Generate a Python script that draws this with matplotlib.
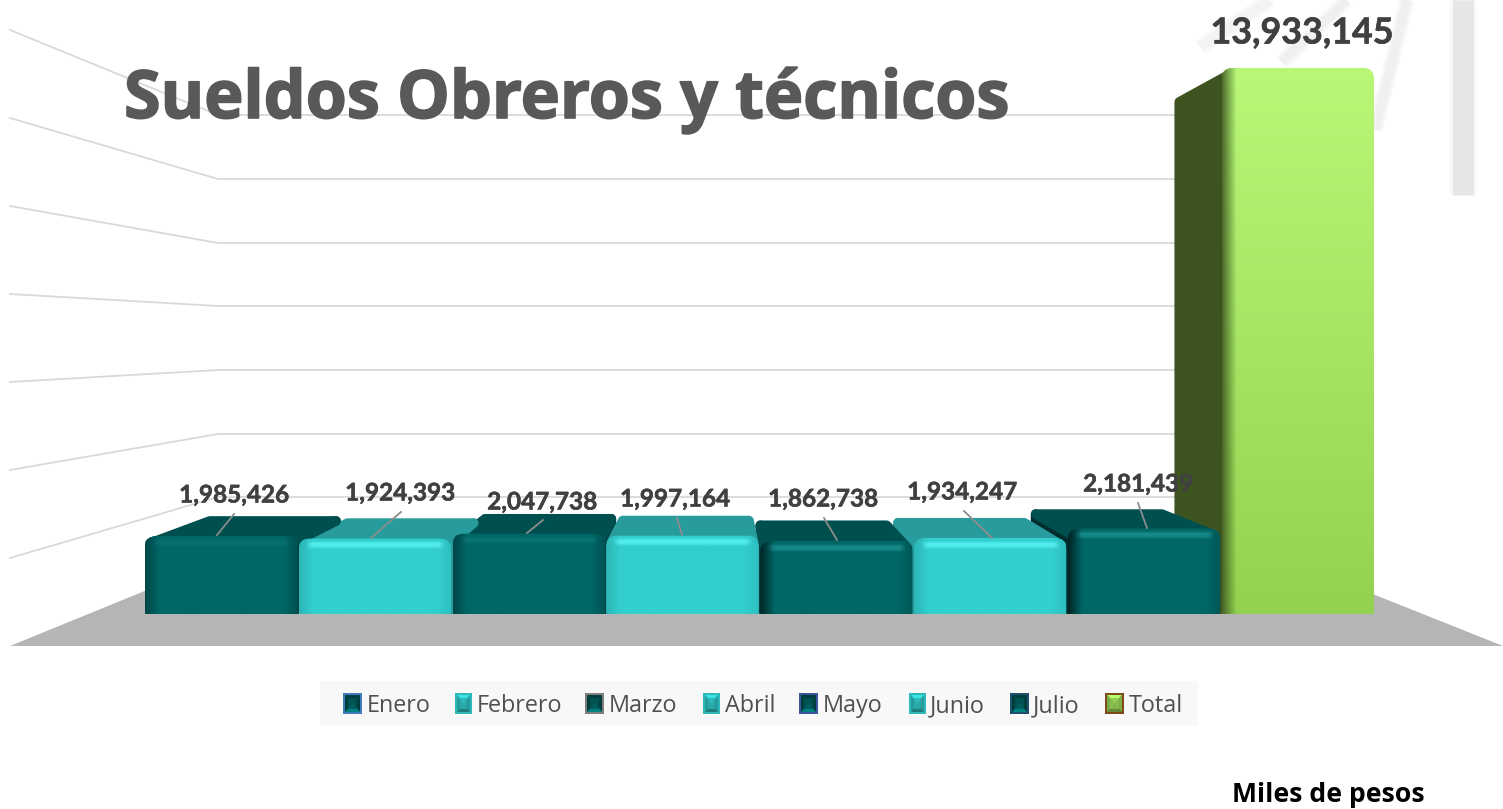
# -*- coding: utf-8 -*-
# Sueldos Obreros y tecnicos - 3D looking column chart
import numpy as np
import matplotlib
matplotlib.use("Agg")
import matplotlib.pyplot as plt
import matplotlib.patheffects as pe
from matplotlib.colors import to_rgb
from matplotlib.patches import FancyBboxPatch, Polygon, Rectangle
from matplotlib.transforms import Affine2D

# DATA
months = ["Enero", "Febrero", "Marzo", "Abril", "Mayo", "Junio", "Julio", "Total"]
sueldos = [1985426, 1924393, 2047738, 1997164, 1862738, 1934247, 2181439, 13933145]

W, H = 1503, 809
front_col = ["#006666", "#33cfcf", "#006666", "#33cfcf", "#006666", "#33cfcf", "#006666", "#a5e661"]
top_col = ["#004f4f", "#289c9c", "#004f4f", "#289c9c", "#004f4f", "#289c9c", "#004f4f", "#3d5420"]
side_col = ["#004444", "#289c9c", "#004444", "#289c9c", "#004040", "#289c9c", "#002e2e", "#3d5420"]
label_pos = [(234, 495), (400, 493), (542, 502), (675, 499), (823, 499), (962, 492), (1138, 484), (1302, 33)]
leaders = [((217, 535), (234, 514)), ((371, 538), (401, 512)), ((527, 533), (543, 520)),
           ((682, 535), (677, 518)), ((837, 540), (824, 518)), ((992, 538), (964, 511)),
           ((1147, 528), (1138, 503))]
swatch_x = [343, 455, 585, 703, 799, 909, 1010, 1105]
legend_x = [367, 477, 609, 725, 823, 930, 1033, 1129]
swatch_edge = ["#3f7cbf", "#2fb8b8", "#7f7f7f", "#2fb8b8", "#3a5599", "#2fb8b8", "#1f4e6e", "#7f4a1a"]
swatch_in = ["#006666", "#33cfcf", "#006666", "#33cfcf", "#006666", "#33cfcf", "#006666", "#a5e661"]

# perspective of the 3D box
VX, VY, S = 714, 344, 0.895
BASE_PX, X0_PX, STEP_PX, PX_PER_UNIT = 614, 145, 153.8, 546 / 13933145


def back(p):
    return (VX + S * (p[0] - VX), VY + S * (p[1] - VY))


def shade(color, i, w, h):
    # front face as an image, with the bevel highlights of the original
    rgb = np.array(to_rgb(color))
    arr = np.ones((h, w, 3)) * rgb
    if i == 7:
        # green bar fades from top to bottom
        a = np.linspace(0, 1, h)[:, None, None]
        arr = (1 - a) * np.array(to_rgb("#b8f876")) + a * np.array(to_rgb("#92d24f"))
        arr = arr * np.ones((h, w, 3))
        dark = np.clip(1 - np.arange(w) / 14, 0, 1)[None, :, None]
        arr = arr * (1 - 0.85 * dark) + np.array([0.24, 0.33, 0.13]) * 0.85 * dark
        return arr
    # soft highlight under the top edge
    cols = np.clip(np.minimum(np.arange(w), np.arange(w)[::-1]) / 6 - 1, 0, 1)
    rows = np.zeros(h)
    rows[3:11] = [0.3, 0.7, 1, 1, 1, 0.8, 0.5, 0.2]
    strength = {0: 0.06, 2: 0.08, 4: 0.22, 6: 0.22}.get(i, 0.6)
    glow = (rows[:, None] * cols[None, :] * strength)[:, :, None]
    light = np.array(to_rgb("#66ffff"))
    arr = arr + (light - arr) * glow
    # darker on the side edges, more on the side that turns away
    left = np.clip(1 - np.arange(w) / 14, 0, 1)[None, :, None]
    right = left[:, ::-1, :]
    if i % 2 == 0:
        k_l, k_r = (0.65, 0.15) if i >= 4 else (0.3, 0.2)
    else:
        k_l, k_r = 0.12, 0.08
    arr = arr * (1 - k_l * left) * (1 - k_r * right)
    return arr


fig = plt.figure(figsize=(W / 100, H / 100), dpi=100)
ax = fig.add_axes([0, 0, 1, 1])
ax.set_xlim(-X0_PX / STEP_PX, (W - X0_PX) / STEP_PX)
ax.set_ylim(-(H - BASE_PX) / PX_PER_UNIT, BASE_PX / PX_PER_UNIT)
ax.axis("off")
xlim, ylim = ax.get_xlim(), ax.get_ylim()

# everything that is not data is placed in image pixels
px = Affine2D().scale(1, -1).translate(0, H)

# faint blurred strips in the top right corner
strips = [((1407, 0), (1375, 130)), ((1347, 0), (1282, 62)), ((1270, 0), (1200, 47)), ((1463, 0), (1463, 195))]
strip_w = [7, 7, 7, 15]
strip_col = ["#f0f0f0", "#f0f0f0", "#f3f3f3", "#e6e6e6"]
for (a, b), lw, c in zip(strips, strip_w, strip_col):
    ax.plot([a[0], b[0]], [a[1], b[1]], color="#f8f8f8", lw=lw + 4, transform=px, solid_capstyle="butt", zorder=1)
    ax.plot([a[0], b[0]], [a[1], b[1]], color=c, lw=lw, transform=px, solid_capstyle="butt", zorder=1)

# walls and floor
wall_back = [497, 434, 370, 306, 243, 179, 115]
wall_left = [558, 470, 382, 294, 206, 118, 30]
for yb, yl in zip(wall_back, wall_left):
    ax.plot([10, 218, 1290], [yl, yb, yb], color="#d9d9d9", lw=1.3, transform=px, zorder=2)
ax.add_patch(Polygon([(10, 646), (1503, 646), (1290, 561), (218, 561)], closed=True, fc="#b5b5b5",
                     ec="none", transform=px, zorder=3))

# bars
pos = np.arange(len(sueldos))
bars = ax.bar(pos, sueldos, width=0.99, align="edge", color=front_col, zorder=10)

corners = []
for b in bars:
    x0d, y0d = ax.transData.transform((b.get_x(), 0))
    x1d, y1d = ax.transData.transform((b.get_x() + b.get_width(), b.get_height()))
    corners.append((x0d, x1d, H - y1d, H - y0d))

# side and top faces first, the green one at the back of everything
INSET = 5
for i in reversed(range(len(bars))):
    x0, x1, yt, yb = corners[i]
    bx0, by = back((x0, yt))
    bx1, _ = back((x1, yt))
    if i == 7:
        bx0 += 6  # the green side starts a bit further in
    if x0 > VX:
        pts = [(x0 + INSET, yt + INSET + 3), (bx0 + INSET, by + INSET), (bx0 + INSET, yb - INSET),
               (x0 + INSET, yb - INSET)]
        ax.add_patch(Polygon(pts, closed=True, fc=side_col[i], ec=side_col[i], lw=7, joinstyle="round",
                             transform=px, zorder=4))
    elif x1 < VX:
        pts = [(x1 - INSET, yt + INSET + 3), (bx1 - INSET, by + INSET), (bx1 - INSET, yb - INSET),
               (x1 - INSET, yb - INSET)]
        ax.add_patch(Polygon(pts, closed=True, fc=side_col[i], ec=side_col[i], lw=7, joinstyle="round",
                             transform=px, zorder=4))
    if i == 7:
        continue
    top = [(x0 + INSET, yt + INSET + 2), (x1 - INSET, yt + INSET + 2), (bx1 - INSET, by + INSET), (bx0 + INSET, by + INSET)]
    ax.add_patch(Polygon(top, closed=True, fc=top_col[i], ec=top_col[i], lw=7, joinstyle="round",
                         transform=px, zorder=5))

# front faces, rounded on top and nearly square at the floor
for i, b in enumerate(bars):
    x0, x1, yt, yb = corners[i]
    clip = FancyBboxPatch((x0, yt), x1 - x0, yb - yt + 8, boxstyle="round,pad=0,rounding_size=11",
                          fc="none", ec="none", transform=px, zorder=11)
    ax.add_patch(clip)
    b.set_clip_path(clip)
    im = ax.imshow(shade(front_col[i], i, int(x1 - x0), int(yb - yt)), extent=(x0, x1, yb, yt),
                   aspect="auto", transform=px, zorder=11, interpolation="bilinear")
    im.set_clip_path(clip)

ax.set_xlim(xlim)
ax.set_ylim(ylim)

# leader lines and value labels
for a, b in leaders:
    ax.plot([a[0], b[0]], [a[1], b[1]], color="#8c8c8c", lw=1.3, transform=px, zorder=12)
for i, v in enumerate(sueldos):
    t = ax.text(label_pos[i][0], label_pos[i][1], f"{v:,}", transform=px, ha="center", va="center",
                family="Lato", weight="bold", color="#404040", fontsize=25.8 if i == 7 else 17.5, zorder=13)
    t.set_path_effects([pe.withStroke(linewidth=0.4, foreground="#404040")])

title = ax.text(124, 118, "Sueldos Obreros y técnicos", transform=px, ha="left", va="baseline",
                family="Open Sans", weight="bold", color="#595959", fontsize=47.8, zorder=14)
title.set_path_effects([pe.withStroke(linewidth=1.2, foreground="#595959")])

# legend
ax.add_patch(Rectangle((320, 681), 878, 45, fc="#f8f8f8", ec="none", transform=px, zorder=13))
for i, m in enumerate(months):
    x, y, w, h = swatch_x[i], 693, 19 if i % 2 == 0 and i < 7 or i == 7 else 17, 21
    ax.add_patch(Rectangle((x, y), w, h, fc=swatch_edge[i], ec="none", transform=px, zorder=14))
    c = (x + w / 2, y + h / 2)
    tl, tr, br, bl = (x + 2, y + 2), (x + w - 2, y + 2), (x + w - 2, y + h - 2), (x + 2, y + h - 2)
    base = np.array(to_rgb(swatch_in[i]))
    if i % 2 == 0 and i < 7 or i == 6:
        faces = [((tl, tr), 0.6), ((tr, br), 0.6), ((br, bl), 1.25), ((bl, tl), 0.6)]
    else:
        faces = [((tl, tr), 1.1), ((tr, br), 0.75), ((br, bl), 0.6), ((bl, tl), 0.75)]
    for tri, f in faces:
        ax.add_patch(Polygon([tri[0], tri[1], c], closed=True, fc=np.clip(base * f, 0, 1), ec="none",
                             transform=px, zorder=15))
    ax.add_patch(Rectangle((x + 5, y + 5), w - 10, h - 10, fc=base * 0.85, ec="none", alpha=0.8,
                           transform=px, zorder=15))
    ax.text(legend_x[i], 712, m, transform=px, ha="left", va="baseline", family="Open Sans", color="#505050",
            fontsize=16.8, zorder=15)

ax.text(1232, 802, "Miles de pesos", transform=px, ha="left", va="baseline", family="Open Sans", weight="bold",
        color="black", fontsize=19.2, zorder=15)

fig.savefig("out.png", dpi=100)
